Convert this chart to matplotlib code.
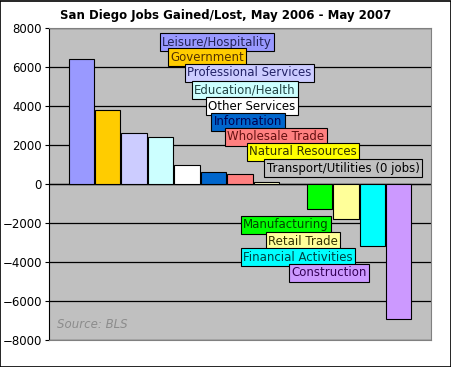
import matplotlib
matplotlib.use("Agg")
import matplotlib.pyplot as plt
from matplotlib.patches import Rectangle

# Data (jobs gained/lost, May 2006 - May 2007)
sectors = ["Leisure/Hospitality", "Government", "Professional Services",
           "Education/Health", "Other Services", "Information", "Wholesale Trade",
           "Natural Resources", "Transport/Utilities (0 jobs)", "Manufacturing",
           "Retail Trade", "Financial Activities", "Construction"]
jobs = [6400, 3800, 2600, 2400, 1000, 600, 500, 100, 0, -1300, -1800, -3200, -6900]

bar_colors = ["#9999FF", "#FFCC00", "#CCCCFF", "#CCFFFF", "#FFFFFF", "#0066CC",
              "#FF8080", "#FFFFCC", "#C0C0C0", "#00FF00", "#FFFF99", "#00FFFF", "#CC99FF"]
label_bg = ["#9999FF", "#FFCC00", "#CCCCFF", "#CCFFFF", "#FFFFFF", "#0066CC",
            "#FF8080", "#FFFF00", "#C0C0C0", "#00FF00", "#FFFF99", "#00FFFF", "#CC99FF"]
label_fg = ["#222255", "#553300", "#222266", "#224444", "#000000", "#000050",
            "#661111", "#333300", "#000000", "#004400", "#333300", "#004444", "#330055"]

# label positions in axes fraction
label_x = [0.440, 0.414, 0.524, 0.513, 0.531, 0.521, 0.594, 0.665, 0.770,
           0.620, 0.665, 0.652, 0.733]
label_y = [0.955, 0.907, 0.856, 0.801, 0.750, 0.699, 0.651, 0.603, 0.551,
           0.369, 0.317, 0.266, 0.215]

fig = plt.figure(figsize=(4.52, 3.67), dpi=100)
ax = fig.add_axes([49 / 452, 1 - 340 / 367, 382 / 452, 312 / 367])
ax.set_facecolor("#C0C0C0")

x = list(range(len(jobs)))
ax.bar(x, jobs, width=0.96, color=bar_colors, edgecolor="black", linewidth=0.8, zorder=3)

ax.set_ylim(-8000, 8000)
ax.set_xlim(-1.22, 13.22)
ax.set_yticks(range(-8000, 8001, 2000))
ax.yaxis.grid(True, color="black", linewidth=0.9, zorder=1)
ax.set_axisbelow(True)
ax.axhline(0, color="black", linewidth=0.9, zorder=2)
ax.set_xticks([])
ax.tick_params(axis="y", length=3, labelsize=8.5, pad=2)
for sp in ["top", "right", "bottom"]:
    ax.spines[sp].set_color("#808080")
ax.spines["left"].set_color("black")

for i, name in enumerate(sectors):
    ax.text(label_x[i], label_y[i], name, transform=ax.transAxes, ha="center", va="center",
            fontsize=8.5, color=label_fg[i], zorder=5,
            bbox=dict(boxstyle="square,pad=0.2", facecolor=label_bg[i],
                      edgecolor="black", linewidth=0.8))

ax.text(0.02, 0.03, "Source: BLS", transform=ax.transAxes, fontsize=8.5,
        style="italic", color="#8C8C8C", ha="left", va="bottom")

fig.text(0.5, 1 - 15 / 367, "San Diego Jobs Gained/Lost, May 2006 - May 2007",
         ha="center", va="center", fontsize=8.5, fontweight="bold")

fig.patches.append(Rectangle((0.001, 0.001), 0.997, 0.997, transform=fig.transFigure,
                             fill=False, edgecolor="black", linewidth=1.2))

fig.savefig("out.png", dpi=100)
